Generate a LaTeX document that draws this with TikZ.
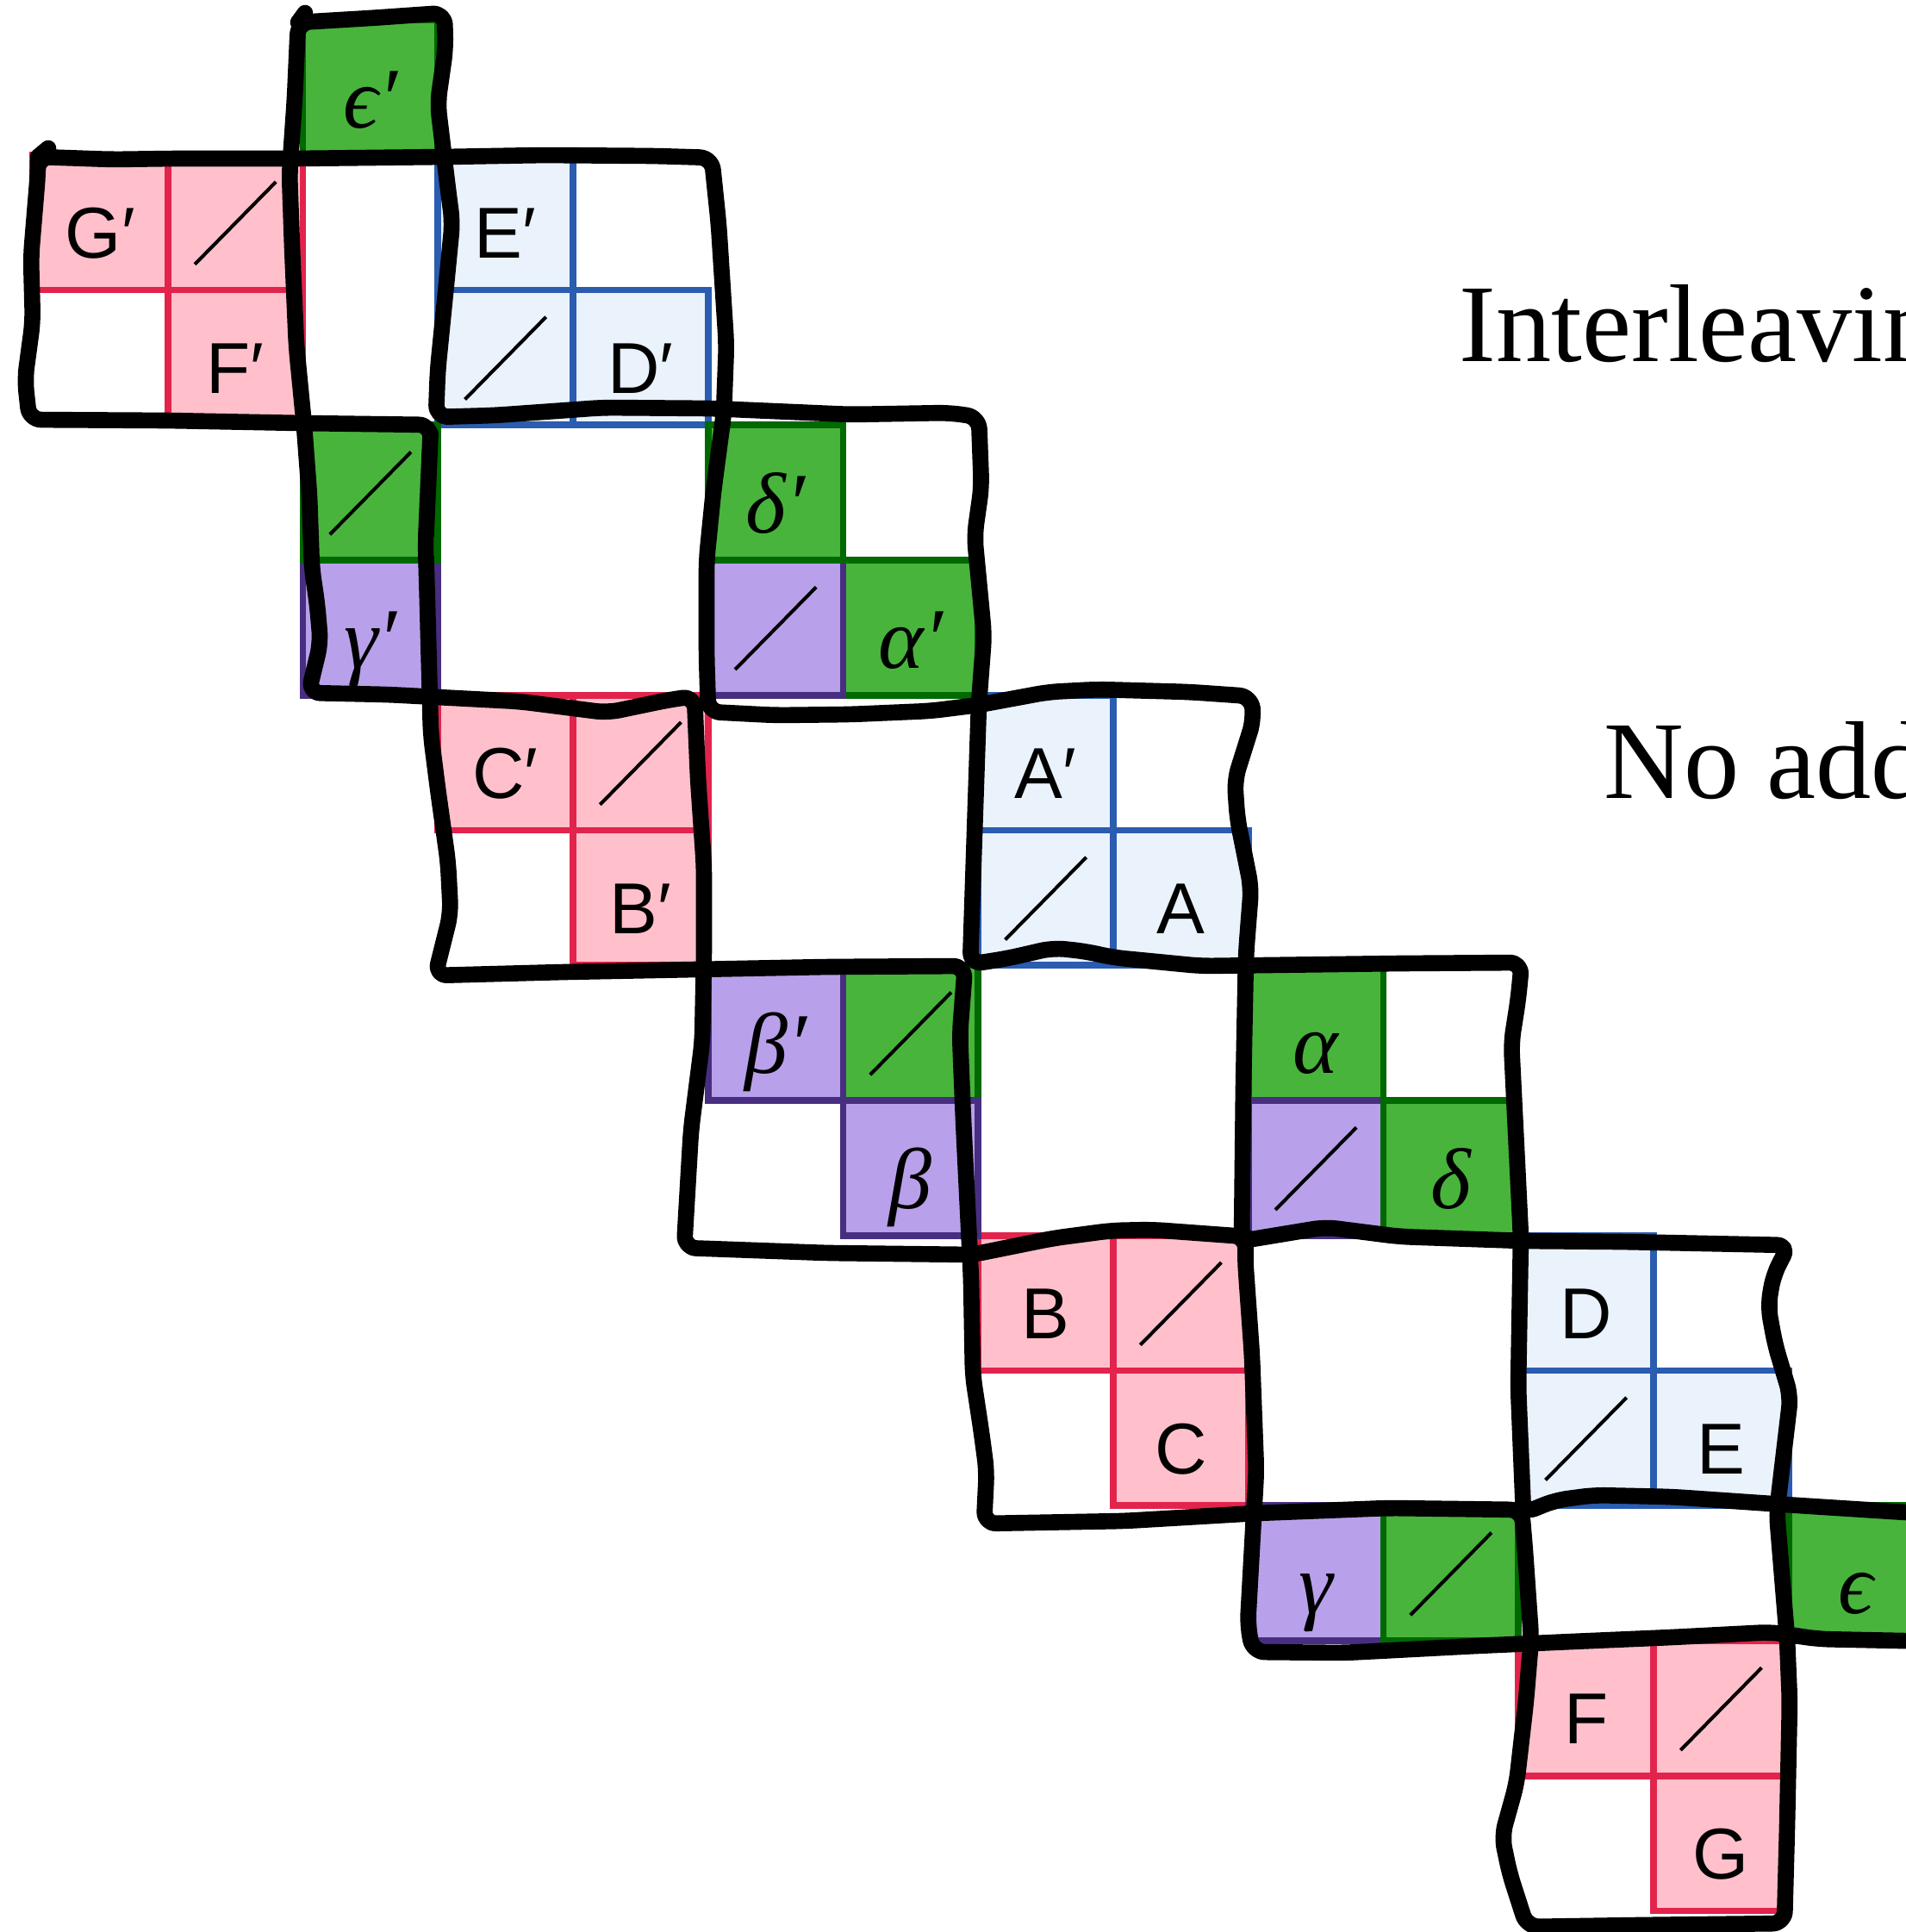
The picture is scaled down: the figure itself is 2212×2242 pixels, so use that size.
\RequirePackage{fix-cm}
\documentclass[tikz,border=0pt]{standalone}
\usepackage{fontspec}
\newfontfamily\labsf{Liberation Sans}
\newfontfamily\ttlfont{Liberation Serif}
\definecolor{pinkF}{RGB}{255,192,203}
\definecolor{redB}{RGB}{226,35,76}
\definecolor{blueF}{RGB}{234,242,252}
\definecolor{blueB}{RGB}{42,92,176}
\definecolor{greenF}{RGB}{72,180,60}
\definecolor{greenB}{RGB}{0,105,0}
\definecolor{purpF}{RGB}{184,161,234}
\definecolor{purpB}{RGB}{72,46,128}
\tikzset{
  blk/.style={line width=5.3pt, line cap=round, line join=round, draw=black, rounded corners=4pt},
  pinkc/.style={fill=pinkF, draw=redB, line width=2.2pt},
  bluec/.style={fill=blueF, draw=blueB, line width=2.2pt},
  greenc/.style={fill=greenF, draw=greenB, line width=2.2pt},
  purpc/.style={fill=purpF, draw=purpB, line width=2.2pt},
  slashln/.style={line width=1.15pt, draw=black},
  sanslab/.style={anchor=base, inner sep=0pt, font=\labsf\fontsize{23.8}{26}\selectfont},
  grlab/.style={anchor=base, inner sep=0pt, font=\ttlfont\itshape\fontsize{28.5}{31}\selectfont},
  ttl/.style={anchor=base west, inner sep=0pt, font=\ttlfont\fontsize{36.5}{40}\selectfont},
}
\newcommand\cellbox[3]{\filldraw[#3] ({38+156.75*#1},{23+156.75*#2}) rectangle ({38+156.75*(#1+1)},{23+156.75*(#2+1)});}
\newcommand\cellslash[2]{\draw[slashln] ({38+156.75*(#1+0.2)},{23+156.75*(#2+0.81)}) -- ({38+156.75*(#1+0.8)},{23+156.75*(#2+0.2)});}
\newcommand\slab[4]{\node[sanslab] (#3) at ({38+156.75*(#1+0.5)},{23+156.75*(#2+0.765)}) {#4};}
\newcommand\glab[4]{\node[grlab] (#3) at ({38+156.75*(#1+0.5)},{23+156.75*(#2+0.8)}) {#4};}
\begin{document}
\begin{tikzpicture}[x=0.01cm,y=-0.01cm]
\useasboundingbox (0,0) rectangle (2212,2242);
\fill[white] (0,0) rectangle (2212,2242);
% pink blocks
\cellbox{0}{1}{pinkc}\cellbox{1}{1}{pinkc}\cellbox{1}{2}{pinkc}
\cellbox{3}{5}{pinkc}\cellbox{4}{5}{pinkc}\cellbox{4}{6}{pinkc}
\cellbox{7}{9}{pinkc}\cellbox{8}{9}{pinkc}\cellbox{8}{10}{pinkc}
\cellbox{11}{12}{pinkc}\cellbox{12}{12}{pinkc}\cellbox{12}{13}{pinkc}
% blue blocks
\cellbox{3}{1}{bluec}\cellbox{3}{2}{bluec}\cellbox{4}{2}{bluec}
\cellbox{7}{5}{bluec}\cellbox{7}{6}{bluec}\cellbox{8}{6}{bluec}
\cellbox{11}{9}{bluec}\cellbox{11}{10}{bluec}\cellbox{12}{10}{bluec}
% green / purple
\cellbox{2}{0}{greenc}
\cellbox{2}{4}{purpc}\cellbox{2}{3}{greenc}
\cellbox{6}{4}{greenc}\cellbox{5}{4}{purpc}\cellbox{5}{3}{greenc}
\cellbox{6}{7}{greenc}\cellbox{5}{7}{purpc}\cellbox{6}{8}{purpc}
\cellbox{9}{7}{greenc}\cellbox{9}{8}{purpc}\cellbox{10}{8}{greenc}
\cellbox{9}{11}{purpc}\cellbox{10}{11}{greenc}
\cellbox{13}{11}{greenc}
% slashes
\cellslash{1}{1}\cellslash{3}{2}\cellslash{2}{3}\cellslash{5}{4}
\cellslash{4}{5}\cellslash{7}{6}\cellslash{6}{7}\cellslash{9}{8}
\cellslash{8}{9}\cellslash{11}{10}\cellslash{10}{11}\cellslash{12}{12}
% labels
\slab{0}{1}{lGp}{G′}
\slab{1}{2}{lFp}{F′}
\slab{3}{1}{lEp}{E′}
\slab{4}{2}{lDp}{D′}
\slab{3}{5}{lCp}{C′}
\slab{4}{6}{lBp}{B′}
\slab{7}{5}{lAp}{A′}
\slab{8}{6}{lA}{A}
\slab{7}{9}{lB}{B}
\slab{8}{10}{lC}{C}
\slab{11}{9}{lD}{D}
\slab{12}{10}{lE}{E}
\slab{11}{12}{lF}{F}
\slab{12}{13}{lG}{G}
\glab{2}{0}{lepsp}{ϵ′}
\glab{2}{4}{lgamp}{γ′}
\glab{5}{3}{ldelp}{δ′}
\glab{6}{4}{lalpp}{α′}
\glab{5}{7}{lbetp}{β′}
\glab{6}{8}{lbet}{β}
\glab{9}{7}{lalp}{α}
\glab{10}{8}{ldel}{δ}
\glab{9}{11}{lgam}{γ}
\glab{13}{11}{leps}{ϵ}
% titles
\node[ttl] (t1) at (1693,419) {Interleavin};
\node[ttl] (t2) at (1861,926) {No add};
% black loop B
\draw[blk] (44,182) -- (130,185) -- (201,184) -- (344,184) -- (517,182) -- (631,180) -- (760,181) -- (826,183)
 -- (834,260) -- (843,400) -- (840,480) -- (828,570) -- (820,650) -- (820,760) -- (822,826)
 -- (900,830) -- (987,829) -- (1080,825) -- (1136,818) -- (1217,803) -- (1274,800) -- (1380,803) -- (1452,808)
 -- (1455,835) -- (1433,905) -- (1436,950) -- (1452,1030) -- (1446,1108) -- (1443,1261) -- (1441,1440)
 -- (1538,1424) -- (1624,1435) -- (1768,1440) -- (1882,1441) -- (2076,1445)
 -- (2058,1480) -- (2052,1516) -- (2060,1560) -- (2078,1620) -- (2062,1755) -- (2074,1901) -- (2077,1974) -- (2074,2120) -- (2071,2232)
 -- (1900,2234) -- (1772,2236)
 -- (1752,2174) -- (1743,2131) -- (1760,2070) -- (1771,1974) -- (1777,1901) -- (1770,1800) -- (1766,1752)
 -- (1611,1750) -- (1458,1756) -- (1305,1765) -- (1142,1768)
 -- (1145,1707) -- (1139,1662) -- (1129,1596) -- (1127,1484) -- (1118,1300) -- (1114,1200) -- (1120,1121)
 -- (960,1122) -- (807,1125) -- (654,1128) -- (505,1132)
 -- (523,1060) -- (520,1001) -- (508,915) -- (500,852) -- (496,700) -- (494,631) -- (499,517) -- (500,493)
 -- (350,491) -- (195,488) -- (34,487)
 -- (29,440) -- (38,373) -- (36,298) -- (44,201) -- cycle;
% black loop A+C
\draw[blk] (346,26) -- (430,21) -- (516,15)
 -- (517,57) -- (508,120) -- (520,220) -- (525,258) -- (517,340) -- (508,430) -- (506,484)
 -- (574,482) -- (700,473) -- (827,474) -- (987,481) -- (1102,479) -- (1136,484)
 -- (1139,565) -- (1131,622) -- (1142,737) -- (1136,817) -- (1131,967) -- (1126,1119)
 -- (1170,1112) -- (1222,1100) -- (1260,1104) -- (1291,1111) -- (1394,1121) -- (1624,1118) -- (1766,1117)
 -- (1762,1159) -- (1754,1210) -- (1759,1312) -- (1765,1435) -- (1762,1610) -- (1768,1756)
 -- (1805,1741) -- (1850,1735) -- (1940,1737) -- (2056,1745) -- (2212,1755) -- (2250,1757)
 -- (2255,1905)
 -- (2110,1902) -- (2056,1894) -- (1940,1900) -- (1824,1905) -- (1713,1910) -- (1560,1918) -- (1454,1917)
 -- (1448,1886) -- (1453,1796) -- (1458,1707) -- (1453,1573) -- (1445,1460) -- (1446,1435)
 -- (1337,1427) -- (1290,1428) -- (1222,1437) -- (1128,1456) -- (960,1454) -- (794,1448)
 -- (802,1311) -- (815,1209) -- (817,1107) -- (817,1005) -- (810,903) -- (806,808)
 -- (777,812) -- (705,827) -- (603,814) -- (450,806) -- (358,804)
 -- (372,746) -- (368,700) -- (362,660) -- (359,574) -- (353,494) -- (344,402) -- (339,287) -- (336,201) -- (342,115) -- cycle;
% start hooks
\draw[blk] (346,26) -- (354,15);
\draw[blk] (44,182) -- (56,172);
\end{tikzpicture}
\end{document}
